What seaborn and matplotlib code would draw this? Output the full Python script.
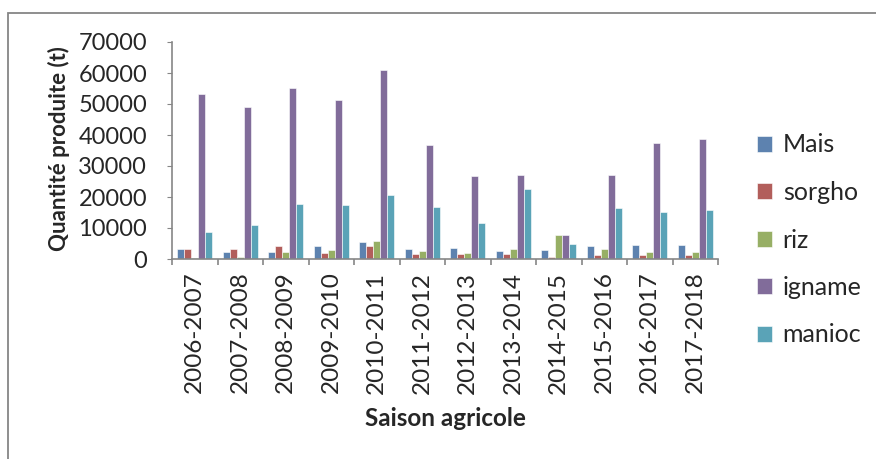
import matplotlib
matplotlib.use("Agg")
import matplotlib.pyplot as plt
import seaborn as sns
import pandas as pd
import numpy as np
from matplotlib.patches import Rectangle

# Production data (tonnes)
saisons = ["2006-2007", "2007-2008", "2008-2009", "2009-2010", "2010-2011", "2011-2012",
           "2012-2013", "2013-2014", "2014-2015", "2015-2016", "2016-2017", "2017-2018"]
mais = [3300, 2150, 2400, 4300, 5500, 3100, 3650, 2500, 2800, 4200, 4400, 4600]
sorgho = [3300, 3200, 4100, 2050, 4100, 1700, 1500, 1600, 750, 1300, 1200, 1200]
riz = [200, 500, 2150, 3000, 5900, 2500, 1800, 3300, 7700, 3300, 2400, 2400]
igname = [53300, 48900, 55300, 51300, 60900, 36900, 26900, 27000, 7850, 27200, 37500, 38700]
manioc = [8700, 11000, 17850, 17500, 20500, 16700, 11700, 22600, 4800, 16300, 15300, 15800]

cultures = ["Mais", "sorgho", "riz", "igname", "manioc"]
couleurs = ["#4F81BD", "#C0504D", "#9BBB59", "#8064A2", "#4BACC6"]

df = pd.DataFrame({"Mais": mais, "sorgho": sorgho, "riz": riz,
                   "igname": igname, "manioc": manioc}, index=saisons)
df = df.reset_index(names="saison").melt(id_vars="saison", var_name="culture", value_name="t")

sns.set_style("white")
plt.rcParams["font.family"] = ["Lato", "DejaVu Sans"]

fig = plt.figure(figsize=(8.76, 4.59), dpi=100)
ax = fig.add_axes([172 / 876, 1 - 259 / 459, 546 / 876, 217 / 459])

sns.barplot(data=df, x="saison", y="t", hue="culture", hue_order=cultures,
            palette=couleurs, width=0.76, gap=0, ax=ax,
            edgecolor="white", linewidth=0.4)

ax.set_ylim(0, 70000)
ax.set_xlim(-0.5, len(saisons) - 0.5)
ax.set_yticks(np.arange(0, 70001, 10000))
ax.tick_params(axis="y", labelsize=17, length=3.6, color="#868686", direction="out", left=True, pad=14.4)
ax.set_xticks(range(len(saisons)))
ax.set_xticklabels(saisons, rotation=90, fontsize=17.5)
ax.tick_params(axis="x", length=0, pad=9)
# Excel-style ticks between the categories
ax.set_xticks(np.arange(-0.5, len(saisons), 1), minor=True)
ax.tick_params(axis="x", which="minor", length=4.5, color="#868686", width=1.2, bottom=True)

for s in ["top", "right"]:
    ax.spines[s].set_visible(False)
for s in ["left", "bottom"]:
    ax.spines[s].set_color("#868686")
    ax.spines[s].set_linewidth(1.2)

ax.set_xlabel("Saison agricole", fontsize=17.5, fontweight="bold", va="center")
ax.xaxis.set_label_coords(0.5, -0.733)
ax.set_ylabel("Quantité produite (t)", fontsize=16, fontweight="bold", va="center")
ax.yaxis.set_label_coords(-0.207, 0.51)

ax.legend(loc="center left", bbox_to_anchor=(744 / 876, 1 - 240 / 459), bbox_transform=fig.transFigure,
          frameon=False, fontsize=18, labelspacing=0.98, handlelength=0.6, handleheight=0.6,
          handletextpad=0.45, borderpad=0)

# outer chart border
fig.patches.append(Rectangle((8 / 876, -0.05), 1.0, 1 - 13 / 459 + 0.05, transform=fig.transFigure,
                             fill=False, edgecolor="#868686", linewidth=1.3))

fig.savefig("out.png", dpi=100)
